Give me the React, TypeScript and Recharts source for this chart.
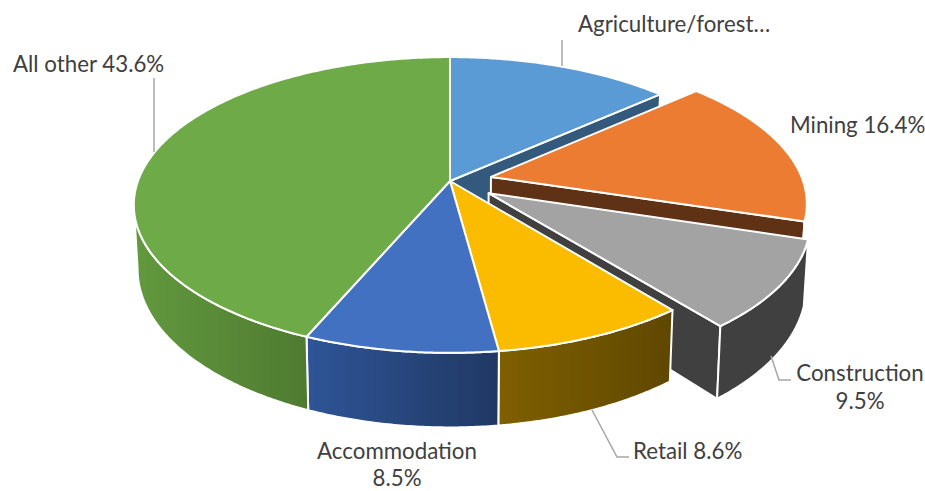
import { PieChart, Pie } from "recharts";

const names = ["Agriculture/forestry", "Mining", "Construction", "Retail", "Accommodation", "All other"];
const values = [13.4, 16.4, 9.5, 8.6, 8.5, 43.6];
const labelLines = [
  ["Agriculture/forest…"],
  ["Mining 16.4%"],
  ["Construction", "9.5%"],
  ["Retail 8.6%"],
  ["Accommodation", "8.5%"],
  ["All other 43.6%"],
];

// colours: top face, cut face, side wall left / right
const topColors = ["#5a9ad5", "#eb7c31", "#a3a3a3", "#fbbc00", "#4371c2", "#6eaa48"];
const faceColors = ["#335a7c", "#5f3115", "#404040", "#7f6000", "#2f5597", "#507c32"];
const wallLeft = ["#335a7c", "#5f3115", "#404040", "#7f6000", "#2f5597", "#62993e"];
const wallRight = ["#335a7c", "#5f3115", "#404040", "#5f4700", "#203864", "#4f7b31"];

// how far a slice is pulled out, as a share of the radius
const explode = [0, 0.135, 0.148, 0, 0, 0];

// where each label goes, text anchor and leader line
const labelPos = [
  { x: 578, y: 32, lineGap: 0, anchor: "start", leader: "M562 40V66" },
  { x: 790, y: 133, lineGap: 0, anchor: "start", leader: "" },
  { x: 860, y: 381, lineGap: 28, anchor: "middle", leader: "M771 356L779 380H791" },
  { x: 633, y: 459, lineGap: 0, anchor: "start", leader: "M592 410L617 457H629" },
  { x: 397, y: 459, lineGap: 27, anchor: "middle", leader: "" },
  { x: 13, y: 72, lineGap: 0, anchor: "start", leader: "M154 78V152" },
];

const data = names.map((name, i) => ({ name, value: values[i], idx: i }));

// perspective of the tilted disc
const PERSP = 0.162;
const DEPTH_Y = 144;
const THICK = 62.5;
const SHRINK = 0.012;

const project = (cx: number, cy: number, r: number, u: number, v: number, h: number) => {
  const d = 1 + PERSP * v;
  return {
    x: cx + ((r * u) / d) * (1 - SHRINK * h),
    y: cy - (DEPTH_Y * v) / d + (h * THICK) / d,
  };
};

const rad = (deg: number) => (deg * Math.PI) / 180;
const SIL = (Math.acos(-PERSP) * 180) / Math.PI; // silhouette of the rim

function Slice3D(props: any) {
  const { cx, cy, outerRadius, startAngle, endAngle, payload } = props;
  const i = payload?.idx ?? props.idx;
  const e = explode[i];
  const a = 90 - startAngle;
  const b = 90 - endAngle;
  const mid = rad((a + b) / 2);
  const ou = e * Math.sin(mid);
  const ov = e * Math.cos(mid);

  const rim = (t: number, h: number) => project(cx, cy, outerRadius, ou + Math.sin(rad(t)), ov + Math.cos(rad(t)), h);
  const apex = (h: number) => project(cx, cy, outerRadius, ou, ov, h);
  const arc = (from: number, to: number, h: number) => {
    const pts = [];
    const n = Math.max(2, Math.ceil(Math.abs(to - from) * 2));
    for (let k = 0; k <= n; k++) pts.push(rim(from + ((to - from) * k) / n, h));
    return pts;
  };
  const toPath = (pts: { x: number; y: number }[]) =>
    "M" + pts.map((p) => `${p.x.toFixed(2)} ${p.y.toFixed(2)}`).join("L") + "Z";

  const topPath = toPath([apex(0), ...arc(a, b, 0)]);
  const hasFace = e > 0 || explode[i + 1] > 0;
  const facePath = toPath([apex(0), rim(b, 0), rim(b, 1), apex(1)]);

  const wa = Math.max(a, SIL);
  const wb = Math.min(b, 360 - SIL);
  const hasWall = wb > wa;
  const wallPath = hasWall ? toPath([...arc(wa, wb, 0), ...arc(wb, wa, 1)]) : "";
  const gradId = `wall-${i}`;

  return (
    <g>
      <defs>
        <linearGradient id={gradId} x1="0" y1="0" x2="1" y2="0">
          <stop offset="0" stopColor={wallLeft[i]} />
          <stop offset="1" stopColor={wallRight[i]} />
        </linearGradient>
      </defs>
      {hasFace && <path d={facePath} fill={faceColors[i]} stroke="#fff" strokeWidth={2} strokeLinejoin="round" />}
      {hasWall && <path d={wallPath} fill={`url(#${gradId})`} stroke="#fff" strokeWidth={2} strokeLinejoin="round" />}
      <path d={topPath} fill={topColors[i]} stroke="#fff" strokeWidth={2} strokeLinejoin="round" />
    </g>
  );
}

function SliceLabel(props: any) {
  const i = props.index;
  const pos = labelPos[i];
  return (
    <g>
      {pos.leader && <path d={pos.leader} fill="none" stroke="#a6a6a6" strokeWidth={1.5} />}
      <text x={pos.x} y={pos.y} textAnchor={pos.anchor as any} fontFamily="Lato" fontSize={22.3} fill="#404040">
        {labelLines[i].map((line, k) => (
          <tspan key={k} x={pos.x} dy={k === 0 ? 0 : pos.lineGap}>
            {line}
          </tspan>
        ))}
      </text>
    </g>
  );
}

export default function App() {
  return (
    <div style={{ position: "absolute", left: 0, top: 0, width: 925, height: 491, background: "#fff" }}>
      <PieChart width={925} height={491} margin={{ top: 0, right: 0, bottom: 0, left: 0 }}>
        <Pie
          data={data}
          dataKey="value"
          nameKey="name"
          cx={450}
          cy={181}
          innerRadius={0}
          outerRadius={312}
          startAngle={90}
          endAngle={-270}
          shape={Slice3D}
          inactiveShape={Slice3D}
          label={SliceLabel}
          labelLine={false}
          isAnimationActive={false}
        />
      </PieChart>
    </div>
  );
}
